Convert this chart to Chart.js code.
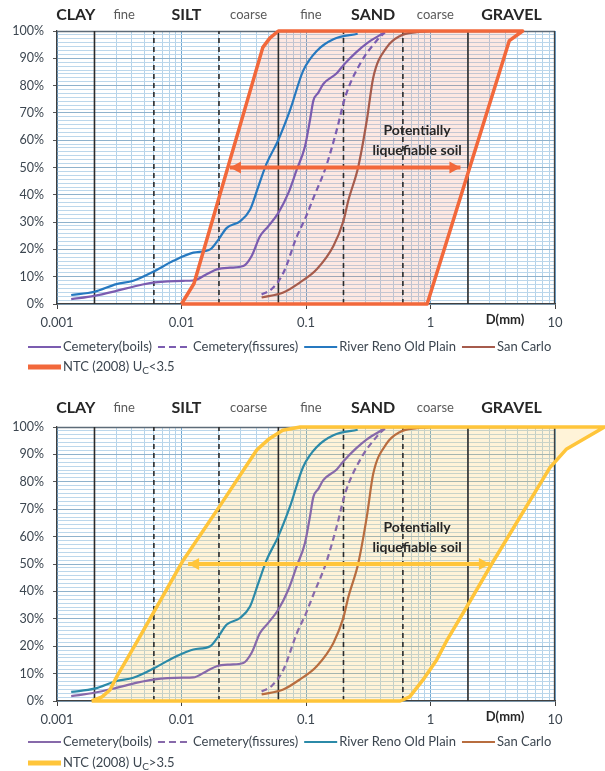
<!DOCTYPE html>
<html>
<head>
<meta charset="utf-8">
<script src="https://cdn.jsdelivr.net/npm/chart.js@4/dist/chart.umd.min.js"></script>
<style>
  html, body { margin: 0; padding: 0; background: #ffffff; }
  #wrap { width: 605px; height: 771px; }
  canvas { display: block; }
</style>
</head>
<body>
<div id="wrap">
  <canvas id="chartLow" width="605" height="385"></canvas>
  <canvas id="chartHigh" width="605" height="386"></canvas>
</div>
<script>
// ---- grain-size classes (mm) ----
const bandEdges = [0.001, 0.002, 0.006, 0.02, 0.06, 0.2, 0.6, 2, 10];
const bandNames = ['CLAY', 'fine', 'SILT', 'coarse', 'fine', 'SAND', 'coarse', 'GRAVEL'];
const bandBold  = [true, false, true, false, false, true, false, true];
const solidBounds  = [0.002, 0.06, 2];
const dashedBounds = [0.006, 0.02, 0.2, 0.6];

// ---- axis ticks ----
const xDecades   = [0.001, 0.01, 0.1, 1, 10];
const xDecadeTxt = ['0.001', '0.01', '0.1', '1', '10'];
const yLabelVals = [0, 10, 20, 30, 40, 50, 60, 70, 80, 90, 100];

// ---- grading curves: D (mm) vs % passing ----
const boilsD = [0.0013, 0.002, 0.003, 0.0044, 0.0061, 0.0103, 0.0124, 0.0159, 0.0192, 0.0245, 0.0314, 0.0366, 0.0427, 0.0498, 0.0598, 0.0721, 0.0841, 0.098, 0.1076, 0.1146, 0.126, 0.1377, 0.1765, 0.2, 0.25, 0.308, 0.418];
const boilsP = [1.8, 3.0, 4.8, 6.7, 7.9, 8.5, 8.6, 10.9, 12.7, 13.3, 13.9, 17.6, 24.8, 28.5, 33.3, 40.6, 49.1, 57.6, 67.3, 74.5, 77.5, 80.6, 84.5, 87.5, 92, 95.5, 99.2];

const fissuresD = [0.044, 0.053, 0.066, 0.084, 0.1, 0.115, 0.144, 0.176, 0.207, 0.272, 0.37, 0.43];
const fissuresP = [3.5, 5.5, 11.5, 24.5, 32, 39, 50, 63.5, 76, 88, 96.5, 99.5];

const renoD = [0.0013, 0.002, 0.003, 0.0041, 0.0061, 0.0086, 0.01245, 0.017, 0.0198, 0.0231, 0.0295, 0.0355, 0.0414, 0.0483, 0.0598, 0.0743, 0.095, 0.122, 0.166, 0.26];
const renoP = [3.3, 4.5, 7.3, 8.5, 12.1, 15.8, 18.8, 20, 23.6, 27.9, 30.3, 34.5, 43, 51.5, 60, 70.9, 85.5, 92.7, 97, 99];

const sanCarloD = [0.044, 0.0657, 0.0895, 0.122, 0.166, 0.2, 0.219, 0.263, 0.308, 0.347, 0.445, 0.569, 0.776, 1.0];
const sanCarloP = [2.4, 4.2, 7.9, 12.7, 21.2, 30.5, 38, 50.3, 67.3, 83, 94, 98.2, 99.6, 100];

// ---- NTC (2008) envelopes of potentially liquefiable soils (closed outlines) ----
const ntcLowD = [0.01, 0.0126, 0.045, 0.0514, 0.06, 5.5, 4.3, 0.94, 0.01];
const ntcLowP = [0, 7.5, 94, 97.5, 100, 100, 96.5, 0, 0];

const ntcHighD = [0.0019, 0.0023, 0.00266, 0.00302, 0.0045, 0.0103, 0.0204, 0.0402, 0.05, 0.065, 0.09, 25, 12.4, 9.1, 3.1, 1.95, 1.35, 1.12, 0.87, 0.68, 0.57, 0.0019];
const ntcHighP = [0, 1.5, 4, 8.9, 22.5, 51.3, 71.3, 91.6, 95.5, 98.8, 100, 100, 92, 85.2, 50, 34.3, 22, 15, 7.7, 1.5, 0, 0];

// ---- double arrows marking the liquefiable range at 50 % passing ----
const arrowLowD  = [0.0245, 1.74];
const arrowHighD = [0.0113, 3.0];
const arrowP     = [50, 50];

// ---- helpers ----
const FONT = 'Lato, "Open Sans", "Liberation Sans", sans-serif';
const pts = (xs, ys) => xs.map((x, i) => ({ x: x, y: ys[i] }));
const isDecade = v => Math.abs(Math.log10(v) - Math.round(Math.log10(v))) < 1e-6;
const isTen = v => Math.abs(v / 10 - Math.round(v / 10)) < 1e-6;

// minor log grid: 1..9 in every decade
const xGrid = [];
for (let d = 0; d < xDecades.length - 1; d++) {
  for (let s = 1; s <= 9; s++) xGrid.push(+(xDecades[d] * s).toPrecision(6));
}
xGrid.push(xDecades[xDecades.length - 1]);
// fine horizontal ruling, seven lines per 10 %
const yGrid = [];
for (let i = 0; i <= 70; i++) yGrid.push(i * 10 / 7);

function drawArrowHead(ctx, tip, from, color) {
  const ang = Math.atan2(tip.y - from.y, tip.x - from.x);
  const len = 11, half = 6;
  ctx.save();
  ctx.translate(tip.x, tip.y);
  ctx.rotate(ang);
  ctx.beginPath();
  ctx.moveTo(0, 0);
  ctx.lineTo(-len, -half);
  ctx.lineTo(-len, half);
  ctx.closePath();
  ctx.fillStyle = color;
  ctx.fill();
  ctx.restore();
}

function drawLabel(ctx, text, x, y, size) {
  // "_" marks the next character as a subscript
  const k = text.indexOf('_');
  if (k < 0) { ctx.font = size + 'px ' + FONT; ctx.fillText(text, x, y); return ctx.measureText(text).width; }
  const a = text.slice(0, k), s = text.charAt(k + 1), b = text.slice(k + 2);
  let w = 0;
  ctx.font = size + 'px ' + FONT; ctx.fillText(a, x, y); w += ctx.measureText(a).width;
  ctx.font = (size - 3) + 'px ' + FONT; ctx.fillText(s, x + w, y + 4); w += ctx.measureText(s).width;
  ctx.font = size + 'px ' + FONT; ctx.fillText(b, x + w, y); w += ctx.measureText(b).width;
  return w;
}

const sheetPlugin = {
  id: 'sheet',
  beforeDatasetsDraw(chart) {
    const ctx = chart.ctx, a = chart.chartArea;
    // translucent envelope area (may run past the plot frame)
    chart.data.datasets.forEach((ds, i) => {
      if (!ds.envelopeFill) return;
      const meta = chart.getDatasetMeta(i);
      ctx.save();
      ctx.beginPath();
      meta.data.forEach((p, j) => j ? ctx.lineTo(p.x, p.y) : ctx.moveTo(p.x, p.y));
      ctx.closePath();
      ctx.fillStyle = ds.envelopeFill;
      ctx.fill();
      ctx.restore();
    });
    // plot frame: top and right edges
    ctx.save();
    ctx.lineWidth = 1.3;
    ctx.strokeStyle = '#5d6b78';
    ctx.beginPath();
    ctx.moveTo(a.left, a.top + 0.5); ctx.lineTo(a.right, a.top + 0.5);
    ctx.stroke();
    ctx.strokeStyle = '#404040';
    ctx.beginPath();
    ctx.moveTo(a.right - 0.5, a.top); ctx.lineTo(a.right - 0.5, a.bottom);
    ctx.stroke();
    ctx.restore();
  },
  afterDatasetsDraw(chart) {
    const ctx = chart.ctx;
    chart.data.datasets.forEach((ds, i) => {
      if (!ds.arrow) return;
      const d = chart.getDatasetMeta(i).data;
      const p0 = d[0], p1 = d[d.length - 1];
      drawArrowHead(ctx, p0, p1, ds.borderColor);
      drawArrowHead(ctx, p1, p0, ds.borderColor);
    });
  },
  afterDraw(chart, args, o) {
    const ctx = chart.ctx, a = chart.chartArea;
    const xs = chart.scales.x, ys = chart.scales.y;
    ctx.save();
    ctx.textAlign = 'center';
    ctx.textBaseline = 'middle';
    // soil class headings
    bandNames.forEach((n, i) => {
      const px = xs.getPixelForValue(Math.sqrt(bandEdges[i] * bandEdges[i + 1]));
      ctx.font = bandBold[i] ? 'bold 16px ' + FONT : '13px ' + FONT;
      ctx.fillStyle = bandBold[i] ? '#262626' : '#5a5a5a';
      ctx.fillText(n, px, a.top - o.headerGap);
    });
    // axis title
    ctx.font = 'bold 13px ' + FONT;
    ctx.fillStyle = '#262626';
    ctx.fillText('D(mm)', a.right - 50, a.bottom + 16);
    // zone caption
    ctx.font = 'bold 14px ' + FONT;
    ctx.fillText('Potentially', xs.getPixelForValue(0.78), ys.getPixelForValue(63.5));
    ctx.fillText('liquefiable soil', xs.getPixelForValue(0.78), ys.getPixelForValue(56.2));
    // legend
    ctx.textAlign = 'left';
    ctx.fillStyle = '#3c4650';
    o.legendY.forEach((ly, r) => {
      let x = 28;
      chart.data.datasets.forEach(ds => {
        if (ds.legendRow !== r) return;
        ctx.save();
        ctx.strokeStyle = ds.borderColor;
        ctx.lineWidth = ds.legendWidth || ds.borderWidth;
        ctx.setLineDash(ds.borderDash ? [7, 4] : []);
        ctx.beginPath();
        ctx.moveTo(x, ly); ctx.lineTo(x + 33, ly);
        ctx.stroke();
        ctx.restore();
        x += 35;
        ctx.fillStyle = '#3c4650';
        x += drawLabel(ctx, ds.label, x, ly, 13) + 6;
      });
    });
    ctx.restore();
  }
};

function buildChart(id, p) {
  const curve = (label, xsArr, psArr, color, dash) => ({
    label: label, data: pts(xsArr, psArr), showLine: true, pointRadius: 0,
    borderColor: color, borderWidth: 2.2, borderDash: dash || undefined,
    cubicInterpolationMode: 'monotone', fill: false, order: 5, legendRow: 0
  });
  const bound = (b, dashed) => ({
    data: [{ x: b, y: 0 }, { x: b, y: 100 }], showLine: true, pointRadius: 0,
    borderColor: '#2b2b2b', borderWidth: 1.6, borderDash: dashed ? [5, 4] : undefined,
    fill: false, order: 20
  });
  const datasets = [];
  solidBounds.forEach(b => datasets.push(bound(b, false)));
  dashedBounds.forEach(b => datasets.push(bound(b, true)));
  datasets.push(curve('Cemetery(boils)', boilsD, boilsP, p.purple));
  datasets.push(curve('Cemetery(fissures)', fissuresD, fissuresP, p.purple, [6, 4]));
  datasets.push(curve('River Reno Old Plain', renoD, renoP, p.blue));
  datasets.push(curve('San Carlo', sanCarloD, sanCarloP, p.brown));
  datasets.push({
    label: p.envLabel, data: pts(p.envD, p.envP), showLine: true, pointRadius: 0,
    borderColor: p.env, borderWidth: 3.5, legendWidth: 5, borderJoinStyle: 'round',
    tension: 0, fill: false, clip: false, order: 2, legendRow: 1, envelopeFill: p.envFill
  });
  datasets.push({
    data: pts(p.arrowD, arrowP), showLine: true, pointRadius: 0,
    borderColor: p.env, borderWidth: 4, fill: false, order: 1, arrow: true
  });

  return new Chart(document.getElementById(id), {
    type: 'scatter',
    data: { datasets: datasets },
    plugins: [sheetPlugin],
    options: {
      responsive: false,
      animation: false,
      events: [],
      layout: { padding: { left: 0, right: 50, top: p.padTop, bottom: p.padBottom } },
      plugins: {
        legend: { display: false },
        tooltip: { enabled: false },
        sheet: { headerGap: p.headerGap, legendY: p.legendY }
      },
      scales: {
        x: {
          type: 'logarithmic', min: 0.001, max: 10,
          afterBuildTicks: s => { s.ticks = xGrid.map(v => ({ value: v })); },
          afterFit: s => { s.height = 30; },
          grid: {
            color: c => (c.tick && isDecade(c.tick.value)) ? '#72a9d3' : '#b4d3ea',
            lineWidth: 1,
            tickLength: 5,
            tickColor: c => (c.tick && isDecade(c.tick.value)) ? '#404040' : 'rgba(0,0,0,0)'
          },
          border: { color: '#404040', width: 1.3 },
          ticks: {
            autoSkip: false, maxRotation: 0, minRotation: 0, padding: 6,
            color: '#3c4650', font: { family: FONT, size: 13 },
            callback: v => { const k = xDecades.findIndex(d => Math.abs(d - v) < d * 1e-6); return k >= 0 ? xDecadeTxt[k] : ''; }
          }
        },
        y: {
          type: 'linear', min: 0, max: 100,
          afterBuildTicks: s => { s.ticks = yGrid.map(v => ({ value: v })); },
          afterFit: s => { s.width = 57; },
          grid: {
            color: c => (c.tick && isTen(c.tick.value)) ? '#8fb2cc' : '#bcd7eb',
            lineWidth: 1,
            tickLength: 4,
            tickColor: c => (c.tick && isTen(c.tick.value)) ? '#555555' : 'rgba(0,0,0,0)'
          },
          border: { color: '#404040', width: 1.3 },
          ticks: {
            autoSkip: false, padding: 9,
            color: '#3c4650', font: { family: FONT, size: 12.5 },
            callback: v => isTen(v) ? Math.round(v) + '%' : ''
          }
        }
      }
    }
  });
}

buildChart('chartLow', {
  purple: '#7b5cb0', blue: '#2679c0', brown: '#a65b4c',
  env: '#f2683b', envFill: 'rgba(242,104,59,0.15)',
  envLabel: 'NTC (2008) U_C<3.5', envD: ntcLowD, envP: ntcLowP, arrowD: arrowLowD,
  padTop: 31, padBottom: 51, headerGap: 16, legendY: [347, 367]
});

buildChart('chartHigh', {
  purple: '#8769aa', blue: '#2b8aa8', brown: '#b86d3f',
  env: '#ffc53a', envFill: 'rgba(255,196,60,0.2)',
  envLabel: 'NTC (2008) U_C>3.5', envD: ntcHighD, envP: ntcHighP, arrowD: arrowHighD,
  padTop: 42, padBottom: 40, headerGap: 19, legendY: [357, 378]
});
</script>
</body>
</html>
